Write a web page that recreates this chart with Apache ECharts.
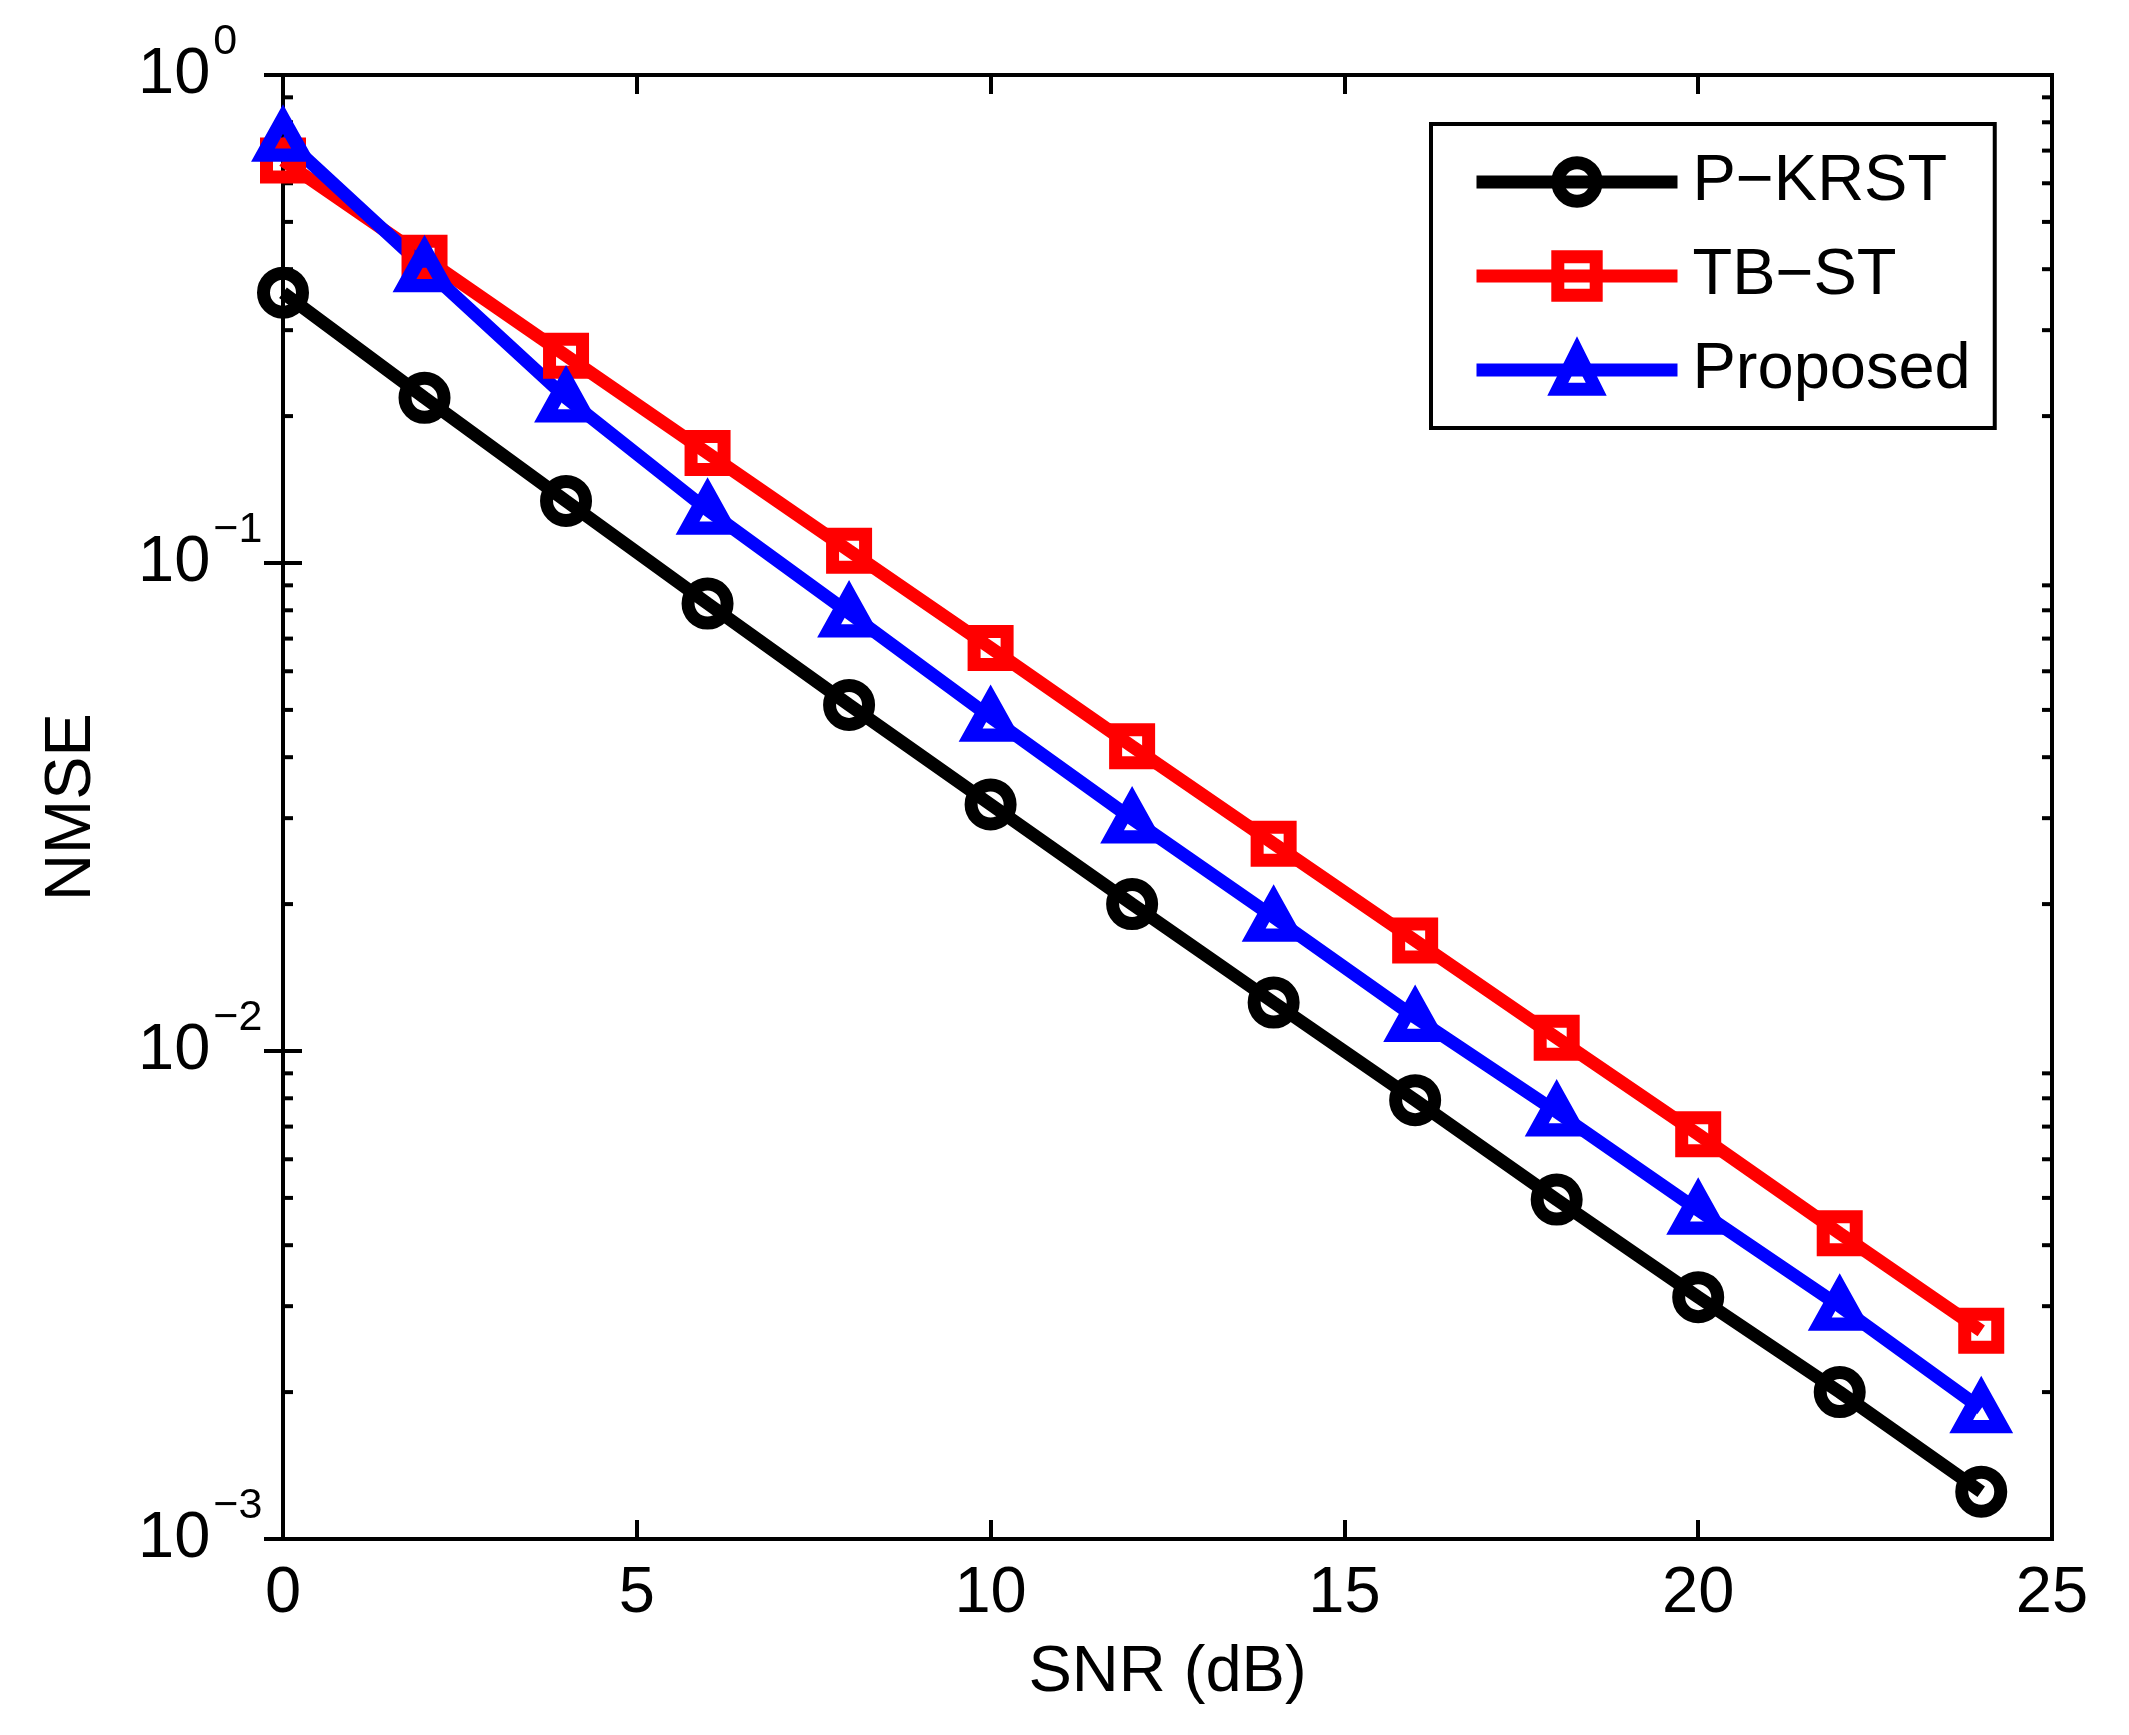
<!DOCTYPE html>
<html>
  <head>
    <meta charset="UTF-8" />
    <title>NMSE vs SNR</title>
    <style>
      html, body { margin: 0; padding: 0; background: #fff; }
      #main { width: 2129px; height: 1735px; }
    </style>
  </head>
  <body>
    <div id="main"></div>
    <script src="https://cdn.jsdelivr.net/npm/echarts@6/dist/echarts.min.js"></script>
    <script>
      // data
      const snr = [0, 2, 4, 6, 8, 10, 12, 14, 16, 18, 20, 22, 24]
      const pkrst = [0.358, 0.218, 0.134, 0.0826, 0.0512, 0.032, 0.02, 0.01257, 0.00793, 0.00496, 0.00313, 0.002, 0.00125]
      const tbst = [0.668, 0.422, 0.266, 0.168, 0.106, 0.067, 0.0421, 0.0266, 0.01684, 0.01064, 0.00675, 0.00423, 0.00267]
      const proposed = [0.746, 0.403, 0.218, 0.1284, 0.079, 0.0483, 0.0299, 0.0188, 0.01172, 0.0075, 0.00472, 0.003, 0.00185]
      const names = ['P\u2212KRST', 'TB\u2212ST', 'Proposed']
      // minor ticks of the log axis
      const minorTicks = [
        0.002, 0.003, 0.004, 0.005, 0.006, 0.007, 0.008, 0.009,
        0.02, 0.03, 0.04, 0.05, 0.06, 0.07, 0.08, 0.09,
        0.2, 0.3, 0.4, 0.5, 0.6, 0.7, 0.8, 0.9,
      ]

      const font = "'Liberation Sans', Arial, Helvetica, sans-serif"
      const xMin = 0
      const xMax = 25

      let pairs = function (ys) {
        return snr.map((x, i) => [x, ys[i]])
      }

      let supLabel = function (v) {
        let e = Math.round(Math.log10(v))
        let s = e < 0 ? '\u2212' + -e : '' + e
        return '{b|10}{s|' + s + '}'
      }

      let lineSeries = function (name, ys, color, symbol, size, bw) {
        return {
          name: name,
          type: 'line',
          data: pairs(ys),
          symbol: symbol,
          symbolSize: size,
          showSymbol: true,
          lineStyle: { color: color, width: 13 },
          itemStyle: {
            color: 'rgba(0,0,0,0)',
            borderColor: color,
            borderWidth: bw,
            borderJoin: 'miter',
          },
          emphasis: { disabled: true },
        }
      }

      const tickStyle = { color: '#000', width: 4 }

      let chart = echarts.init(document.getElementById('main'))
      chart.setOption({
        animation: false,
        backgroundColor: '#fff',
        textStyle: { fontFamily: font },
        grid: {
          left: 283,
          top: 75,
          right: 77,
          bottom: 196,
          show: true,
          borderColor: '#000',
          borderWidth: 4,
        },
        legend: {
          data: names,
          orient: 'vertical',
          left: 1431,
          top: 124,
          itemWidth: 201,
          itemHeight: 48,
          itemGap: 28,
          padding: [25, 24, 25, 39],
          borderColor: '#000',
          borderWidth: 4,
          backgroundColor: '#fff',
          selectedMode: false,
          itemStyle: { borderWidth: 13 },
          lineStyle: { width: 13 },
          textStyle: {
            fontFamily: font,
            fontSize: 65,
            lineHeight: 66,
            color: '#000',
            padding: [0, 0, 0, 10],
          },
        },
        xAxis: [
          {
            type: 'value',
            min: xMin,
            max: xMax,
            interval: 5,
            name: 'SNR (dB)',
            nameLocation: 'middle',
            nameGap: 102,
            nameTextStyle: { fontFamily: font, fontSize: 65, color: '#000' },
            axisLine: { show: true, lineStyle: tickStyle },
            axisTick: { show: true, inside: true, length: 19, lineStyle: tickStyle },
            axisLabel: { fontFamily: font, fontSize: 65, color: '#000', margin: 23 },
            splitLine: { show: false },
          },
          {
            type: 'value',
            position: 'top',
            min: xMin,
            max: xMax,
            interval: 5,
            axisLine: { show: false },
            axisTick: { show: true, inside: true, length: 19, lineStyle: tickStyle },
            axisLabel: { show: false },
            splitLine: { show: false },
          },
        ],
        yAxis: [
          {
            type: 'log',
            logBase: 10,
            min: 0.001,
            max: 1,
            name: 'NMSE',
            nameLocation: 'middle',
            nameRotate: 90,
            nameGap: 178,
            nameTextStyle: { fontFamily: font, fontSize: 65, color: '#000' },
            axisLine: { show: true, lineStyle: tickStyle },
            axisTick: { show: true, inside: true, length: 19, lineStyle: tickStyle },
            axisLabel: {
              align: 'left',
              margin: 145,
              formatter: supLabel,
              rich: {
                b: {
                  fontFamily: font,
                  fontSize: 65,
                  lineHeight: 65,
                  color: '#000',
                  padding: [22, 0, 22, 0],
                },
                s: {
                  fontFamily: font,
                  fontSize: 43,
                  lineHeight: 43,
                  color: '#000',
                  padding: [0, 0, 66, 3],
                },
              },
            },
            splitLine: { show: false },
          },
          {
            type: 'log',
            logBase: 10,
            min: 0.001,
            max: 1,
            position: 'right',
            axisLine: { show: false },
            axisTick: { show: true, inside: true, length: 19, lineStyle: tickStyle },
            axisLabel: { show: false },
            splitLine: { show: false },
          },
        ],
        series: [
          lineSeries(names[0], pkrst, '#000000', 'circle', 39, 13),
          lineSeries(names[1], tbst, '#ff0000', 'rect', 33, 13),
          lineSeries(names[2], proposed, '#0000ff', 'triangle', [40, 36], 14),
          {
            type: 'custom',
            silent: true,
            xAxisIndex: 0,
            yAxisIndex: 0,
            encode: { x: 0, y: 1 },
            data: minorTicks.map((v) => [xMin, v]),
            renderItem: function (params, api) {
              let v = api.value(1)
              let l = api.coord([xMin, v])
              let r = api.coord([xMax, v])
              return {
                type: 'group',
                children: [
                  {
                    type: 'line',
                    shape: { x1: l[0], y1: l[1], x2: l[0] + 10, y2: l[1] },
                    style: { stroke: '#000', lineWidth: 4 },
                  },
                  {
                    type: 'line',
                    shape: { x1: r[0] - 10, y1: r[1], x2: r[0], y2: r[1] },
                    style: { stroke: '#000', lineWidth: 4 },
                  },
                ],
              }
            },
          },
        ],
      })
    </script>
  </body>
</html>
